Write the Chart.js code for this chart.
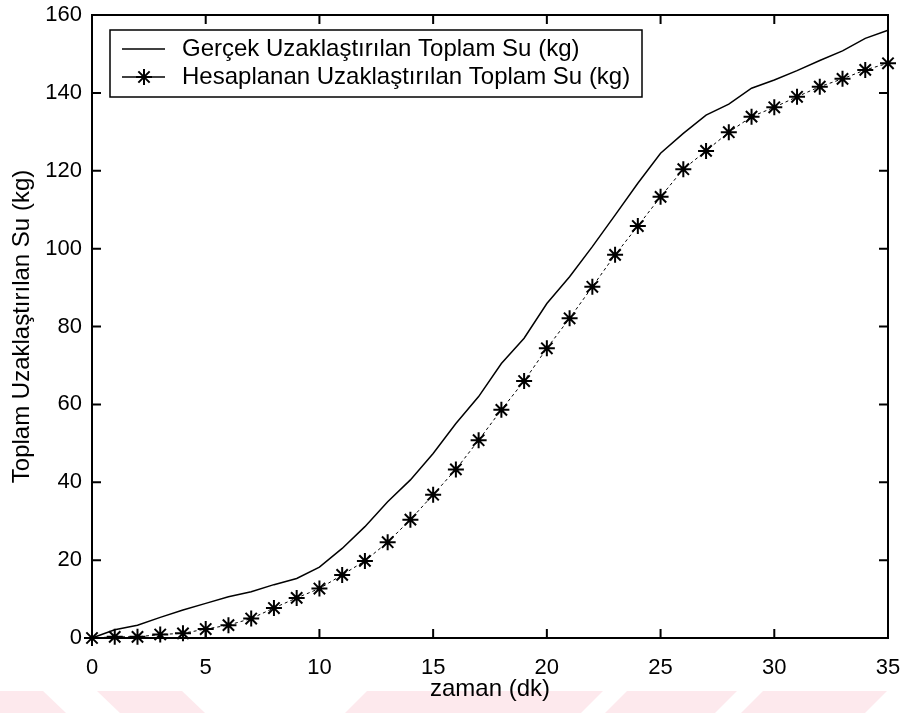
<!DOCTYPE html>
<html>
<head>
<meta charset="utf-8">
<script src="https://cdn.jsdelivr.net/npm/chart.js@4.4.1/dist/chart.umd.min.js"></script>
<style>
  html, body { margin: 0; padding: 0; background: #fff; }
  #wrap { width: 902px; height: 713px; position: relative; }
</style>
</head>
<body>
<div id="wrap"><canvas id="grafik"></canvas></div>
<script>
// veriler
const zaman = [0, 1, 2, 3, 4, 5, 6, 7, 8, 9, 10, 11, 12, 13, 14, 15, 16, 17,
  18, 19, 20, 21, 22, 23, 24, 25, 26, 27, 28, 29, 30, 31, 32, 33, 34, 35];
const gercek = [0, 2.1, 3.3, 5.3, 7.2, 8.9, 10.6, 11.9, 13.7, 15.3, 18.2, 23.0,
  28.6, 35.0, 40.6, 47.4, 55.1, 62.0, 70.5, 77.0, 85.9, 92.8, 100.5, 108.6,
  116.8, 124.5, 129.6, 134.3, 137.1, 141.2, 143.3, 145.7, 148.3, 150.8, 154.0, 156.1];
const hesaplanan = [0, 0.3, 0.3, 0.9, 1.2, 2.3, 3.3, 5.0, 7.7, 10.3, 12.7, 16.2,
  19.8, 24.6, 30.4, 36.8, 43.3, 50.8, 58.6, 66.0, 74.4, 82.1, 90.2, 98.4,
  105.8, 113.3, 120.4, 125.1, 129.9, 133.9, 136.3, 139.0, 141.6, 143.6, 145.9, 147.6];
const xTicks = [0, 5, 10, 15, 20, 25, 30, 35];
const yTicks = [0, 20, 40, 60, 80, 100, 120, 140, 160];
const etiketler = ["Gerçek Uzaklaştırılan Toplam Su (kg)", "Hesaplanan Uzaklaştırılan Toplam Su (kg)"];

const yazi = "'Liberation Sans', Arial, sans-serif";
const canvas = document.getElementById("grafik");

const toPoints = (ys) => zaman.map((x, i) => ({ x: x, y: ys[i] }));

// arka plandaki soluk filigran
const filigran = {
  id: "filigran",
  beforeDraw(chart) {
    const ctx = chart.ctx;
    ctx.save();
    ctx.fillStyle = "#fff";
    ctx.fillRect(0, 0, chart.width, chart.height);
    ctx.fillStyle = "#fde9ed";
    const parcalar = [
      [[0, 691], [43, 691], [66, 713], [0, 713]],
      [[97, 691], [182, 691], [205, 713], [120, 713]],
      [[367, 691], [603, 691], [581, 713], [345, 713]],
      [[627, 691], [737, 691], [715, 713], [605, 713]],
      [[763, 691], [887, 691], [865, 713], [741, 713]]
    ];
    parcalar.forEach((p) => {
      ctx.beginPath();
      ctx.moveTo(p[0][0], p[0][1]);
      for (let i = 1; i < p.length; i++) ctx.lineTo(p[i][0], p[i][1]);
      ctx.closePath();
      ctx.fill();
    });
    ctx.restore();
  }
};

// matlab tarzi cerceve, iceri bakan cizgiler ve lejant
const cerceve = {
  id: "cerceve",
  afterDraw(chart) {
    const ctx = chart.ctx;
    const a = chart.chartArea;
    const xs = chart.scales.x;
    const ys = chart.scales.y;
    const L = 9;
    ctx.save();
    ctx.strokeStyle = "#000";
    ctx.lineWidth = 2;
    ctx.strokeRect(a.left, a.top, a.right - a.left, a.bottom - a.top);
    ctx.beginPath();
    xTicks.forEach((v) => {
      const px = xs.getPixelForValue(v);
      ctx.moveTo(px, a.bottom); ctx.lineTo(px, a.bottom - L);
      ctx.moveTo(px, a.top); ctx.lineTo(px, a.top + L);
    });
    yTicks.forEach((v) => {
      const py = ys.getPixelForValue(v);
      ctx.moveTo(a.left, py); ctx.lineTo(a.left + L, py);
      ctx.moveTo(a.right, py); ctx.lineTo(a.right - L, py);
    });
    ctx.stroke();

    // lejant kutusu
    const bx = 110, by = 30, bw = 532, bh = 67;
    ctx.fillStyle = "#fff";
    ctx.fillRect(bx, by, bw, bh);
    ctx.lineWidth = 1.5;
    ctx.strokeRect(bx, by, bw, bh);
    ctx.font = "24px " + yazi;
    ctx.fillStyle = "#000";
    ctx.textBaseline = "middle";
    const satirlar = [49, 77];
    chart.data.datasets.forEach((ds, i) => {
      const y = satirlar[i];
      ctx.lineWidth = 1.5;
      ctx.setLineDash([]);
      ctx.beginPath();
      ctx.moveTo(122, y); ctx.lineTo(165, y);
      ctx.stroke();
      if (ds.pointStyle === "star") {
        const r = ds.pointRadius;
        ctx.lineWidth = ds.pointBorderWidth;
        ctx.beginPath();
        for (let k = 0; k < 4; k++) {
          const ang = k * Math.PI / 4;
          ctx.moveTo(144 - r * Math.cos(ang), y - r * Math.sin(ang));
          ctx.lineTo(144 + r * Math.cos(ang), y + r * Math.sin(ang));
        }
        ctx.stroke();
      }
      ctx.fillText(ds.label, 182, y);
    });
    ctx.restore();
  }
};

const config = {
  type: "line",
  data: {
    datasets: [
      {
        label: etiketler[0],
        data: toPoints(gercek),
        borderColor: "#000",
        borderWidth: 1.5,
        pointRadius: 0,
        pointStyle: false,
        tension: 0,
        clip: false
      },
      {
        label: etiketler[1],
        data: toPoints(hesaplanan),
        borderColor: "#000",
        borderWidth: 1,
        borderDash: [3, 3],
        pointStyle: "star",
        pointRadius: 8,
        pointBorderWidth: 2,
        pointBorderColor: "#000",
        pointBackgroundColor: "#000",
        tension: 0,
        clip: false
      }
    ]
  },
  options: {
    responsive: false,
    animation: false,
    layout: { padding: { top: 15, right: 14, left: 0, bottom: 0 } },
    plugins: {
      legend: { display: false },
      tooltip: { enabled: false }
    },
    scales: {
      x: {
        type: "linear",
        min: 0,
        max: 35,
        afterBuildTicks: (s) => { s.ticks = xTicks.map((v) => ({ value: v })); },
        afterFit: (s) => { s.height = 75; s.paddingLeft = 0; s.paddingRight = 0; },
        grid: { display: false, drawTicks: false },
        border: { display: false },
        ticks: { color: "#000", padding: 17, font: { family: yazi, size: 22 } },
        title: {
          display: true,
          text: "zaman (dk)",
          color: "#000",
          font: { family: yazi, size: 24 },
          padding: { top: 0, bottom: 9 }
        }
      },
      y: {
        min: 0,
        max: 160,
        afterBuildTicks: (s) => { s.ticks = yTicks.map((v) => ({ value: v })); },
        afterFit: (s) => { s.width = 92; s.paddingTop = 0; s.paddingBottom = 0; },
        grid: { display: false, drawTicks: false },
        border: { display: false },
        ticks: { color: "#000", padding: 10, font: { family: yazi, size: 22 } },
        title: {
          display: true,
          text: "Toplam Uzaklaştırılan Su (kg)",
          color: "#000",
          font: { family: yazi, size: 24 },
          padding: { top: 8, bottom: 0 }
        }
      }
    }
  },
  plugins: [filigran, cerceve]
};

canvas.width = 902;
canvas.height = 713;
const grafik = new Chart(canvas, config);
</script>
</body>
</html>
